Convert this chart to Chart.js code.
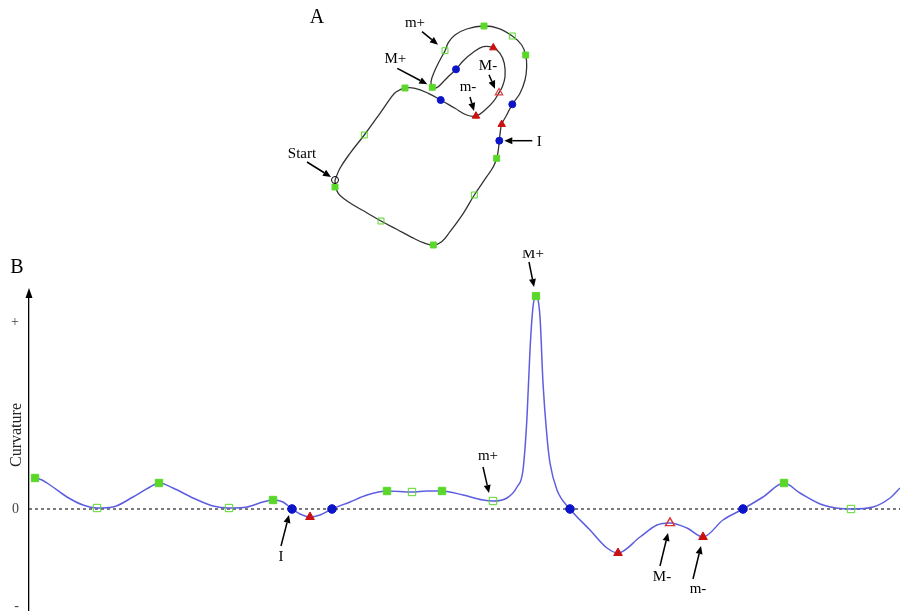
<!DOCTYPE html>
<html><head><meta charset="utf-8">
<script src="https://cdn.jsdelivr.net/npm/chart.js@4.4.1/dist/chart.umd.min.js"></script>
<style>
html,body{margin:0;padding:0;background:#fff;width:900px;height:611px;overflow:hidden;position:relative}
canvas{position:absolute}
#ca{left:270px;top:0}
#cb{left:0;top:250px}
</style></head><body>
<canvas id="ca" width="300" height="260"></canvas>
<canvas id="cb" width="900" height="361"></canvas>
<script>
// ---------- Panel A: contour (arbitrary planar units) ----------
const shapeX = [3.50,3.57,3.83,4.33,5.33,6.67,8.10,9.67,11.17,12.33,13.33,14.17,15.00,16.33,17.43,18.67,19.33,19.67,19.83,19.93,20.03,20.17,20.67,21.23,22.00,22.50,22.67,22.57,22.17,21.23,19.83,18.40,16.67,15.50,14.83,14.50,14.00,13.43,13.10,13.23,13.67,14.33,15.00,15.60,16.33,17.33,18.33,19.33,20.00,20.43,20.50,20.23,19.90,19.33,18.50,17.60,16.67,15.50,14.07,12.83,11.50,10.50,9.60,9.17,8.00,6.43,5.00,4.00,3.50];
const shapeY = [7.00,6.27,5.67,5.17,4.50,3.73,2.90,2.07,1.27,0.73,0.50,0.83,1.83,3.67,5.50,7.33,8.33,9.17,10.00,10.93,11.83,12.57,13.50,14.57,15.67,17.00,18.33,19.50,20.50,21.40,22.17,22.40,22.10,21.50,20.73,19.93,19.00,17.83,16.83,16.27,16.23,16.83,17.50,18.07,18.93,19.77,20.33,20.23,19.67,18.67,17.33,16.33,15.73,14.83,14.00,13.40,13.50,14.17,15.00,15.67,16.17,16.20,15.80,15.33,13.67,11.50,9.67,8.17,7.00];
const aStart      = [[3.50,7.00]];
const aMaxPos     = [[3.50,6.30],[13.33,0.50],[19.67,9.17],[22.57,19.50],[18.40,22.40],[13.23,16.27],[10.50,16.20]];
const aMinPos     = [[8.10,2.90],[17.43,5.50],[21.23,21.40],[14.50,19.93],[6.43,11.50]];
const aInflection = [[19.93,10.93],[21.23,14.57],[15.60,18.07],[14.07,15.00]];
const aMinNeg     = [[20.17,12.57],[19.33,20.23],[17.60,13.40]];
const aMaxNeg     = [[19.90,15.73]];

// ---------- Panel B: curvature along the contour ----------
const curveS = [0.4,0.6,1.3,2.1,3.8,5.4,6.8,8.4,10.4,12.1,13.0,14.4,16.4,18.4,20.0,21.8,23.4,24.4,25.4,26.3,27.1,28.1,29.1,30.3,32.1,33.8,35.8,38.3,39.8,41.3,43.4,45.4,46.4,47.8,48.8,49.4,49.8,50.1,50.4,50.7,51.1,51.4,51.8,52.1,52.8,54.1,56.1,57.8,58.9,61.1,62.8,64.1,65.8,67.4,69.4,71.4,73.4,75.5,77.1,79.4,82.2,84.4,86.1,87.1];
const curveK = [0.30,0.31,0.29,0.24,0.12,0.04,0.01,0.02,0.12,0.22,0.26,0.21,0.11,0.03,0.01,0.02,0.07,0.09,0.07,0.00,-0.05,-0.08,-0.06,0.00,0.07,0.14,0.18,0.17,0.18,0.18,0.14,0.09,0.08,0.11,0.22,0.39,0.92,1.59,2.02,2.13,1.92,1.26,0.72,0.46,0.19,0.00,-0.21,-0.39,-0.44,-0.28,-0.16,-0.14,-0.19,-0.28,-0.11,0.00,0.12,0.26,0.16,0.04,0.00,0.02,0.11,0.21];
const bMaxPos     = [[0.6,0.31],[13.0,0.26],[24.4,0.09],[35.8,0.18],[41.3,0.18],[50.7,2.13],[75.5,0.26]];
const bMinPos     = [[6.8,0.01],[20.0,0.01],[38.3,0.17],[46.4,0.08],[82.2,0.00]];
const bInflection = [[26.3,0],[30.3,0],[54.1,0],[71.4,0]];
const bMinNeg     = [[28.1,-0.08],[58.9,-0.44],[67.4,-0.28]];
const bMaxNeg     = [[64.1,-0.14]];
const zeroLine    = [[0,0],[87.1,0]];
const tickValues  = [1.87, 0, -0.97];
const tickLabels  = ['+', '0', '-'];
const yTitle      = 'Curvature';

const GREEN = '#5ad82a', BLUE = '#0c14c8', RED = '#cc1010', CURVE = '#5d5de0';
const SERIF = '"Liberation Serif", "DejaVu Serif", serif';

const pts = a => a.map(([x, y]) => ({x, y}));
function markers(arr, style, r, fill, border, bw) {
  return {data: pts(arr), showLine: false, pointStyle: style, pointRadius: r,
    pointBackgroundColor: fill, pointBorderColor: border, pointBorderWidth: bw, order: 0};
}

function arrowPlugin(notes, letter) {
  return {
    id: 'notes',
    afterDraw(chart) {
      const ctx = chart.ctx, xs = chart.scales.x, ys = chart.scales.y;
      ctx.save();
      ctx.fillStyle = '#000'; ctx.strokeStyle = '#000'; ctx.lineWidth = 1.5;
      notes.forEach(n => {
        const px = xs.getPixelForValue(n.pt[0]), py = ys.getPixelForValue(n.pt[1]);
        const tx = px + n.tip[0], ty = py + n.tip[1], sx = px + n.tail[0], sy = py + n.tail[1];
        const ang = Math.atan2(ty - sy, tx - sx), L = 8, W = 3.5;
        const bx = tx - L * Math.cos(ang), by = ty - L * Math.sin(ang);
        ctx.beginPath(); ctx.moveTo(sx, sy); ctx.lineTo(bx, by); ctx.stroke();
        ctx.beginPath(); ctx.moveTo(tx, ty);
        ctx.lineTo(bx + W * Math.sin(ang), by - W * Math.cos(ang));
        ctx.lineTo(bx - W * Math.sin(ang), by + W * Math.cos(ang));
        ctx.closePath(); ctx.fill();
        ctx.font = '15px ' + SERIF; ctx.textAlign = 'center'; ctx.textBaseline = 'middle';
        ctx.fillText(n.text, px + n.lab[0], py + n.lab[1]);
      });
      ctx.font = '20px ' + SERIF; ctx.textAlign = 'center'; ctx.textBaseline = 'middle';
      ctx.fillText(letter.text, letter.x, letter.y);
      if (letter.axisArrow) {
        const a = chart.chartArea;
        ctx.beginPath(); ctx.moveTo(a.left, a.top - 4);
        ctx.lineTo(a.left - 3.5, a.top + 6); ctx.lineTo(a.left + 3.5, a.top + 6);
        ctx.closePath(); ctx.fill();
        // y-axis title, rotated, placed like the original figure
        ctx.save();
        ctx.translate(17, ys.getPixelForValue(0.74));
        ctx.rotate(-Math.PI / 2);
        ctx.font = '16px ' + SERIF; ctx.fillStyle = '#222';
        ctx.fillText(yTitle, 0, 0);
        ctx.restore();
      }
      ctx.restore();
    }
  };
}

// ---------- Chart A ----------
const notesA = [
  {text: 'm+', pt: aMinPos[3], tip: [-7, -6], tail: [-23, -19], lab: [-30, -28]},
  {text: 'M+', pt: aMaxPos[5], tip: [-5, -3], tail: [-35, -19], lab: [-37, -28]},
  {text: 'M-', pt: aMaxNeg[0], tip: [-4, -4], tail: [-10, -18], lab: [-11, -27]},
  {text: 'm-', pt: aMinNeg[2], tip: [-2, -5], tail: [-6, -19], lab: [-8, -29]},
  {text: 'Start', pt: aStart[0], tip: [-4, -3], tail: [-28, -18], lab: [-33, -26]},
  {text: 'I', pt: aInflection[0], tip: [5, 0], tail: [33, 0], lab: [40, 1]}
];
new Chart(document.getElementById('ca'), {
  type: 'scatter',
  data: {datasets: [
    markers(aStart, 'circle', 3.5, 'rgba(0,0,0,0)', '#000', 1),
    markers(aMaxPos, 'rect', 4.2, GREEN, GREEN, 1),
    markers(aMinPos, 'rect', 4.2, 'rgba(0,0,0,0)', GREEN, 1),
    markers(aInflection, 'circle', 3.5, BLUE, BLUE, 1),
    markers(aMinNeg, 'triangle', 4.3, RED, RED, 1),
    markers(aMaxNeg, 'triangle', 4.3, 'rgba(0,0,0,0)', '#e04040', 1.2),
    {data: shapeX.map((x, i) => ({x, y: shapeY[i]})), showLine: true, tension: 0.4,
     borderColor: '#333', borderWidth: 1.3, pointRadius: 0, order: 1}
  ]},
  options: {
    responsive: false, animation: false, events: [],
    layout: {padding: 0, autoPadding: false},
    plugins: {legend: {display: false}, tooltip: {enabled: false}},
    scales: {
      x: {type: 'linear', min: -3, max: 27, display: false},
      y: {type: 'linear', min: -1, max: 25, display: false}
    }
  },
  plugins: [arrowPlugin(notesA, {text: 'A', x: 47, y: 18})]
});

// ---------- Chart B ----------
const notesB = [
  {text: 'M+', pt: bMaxPos[5], tip: [-2, -9], tail: [-7, -34], lab: [-3, -42]},
  {text: 'm+', pt: bMinPos[3], tip: [-4, -8], tail: [-10, -34], lab: [-5, -45]},
  {text: 'I', pt: bInflection[0], tip: [-3, 6], tail: [-11, 37], lab: [-11, 48]},
  {text: 'M-', pt: bMaxNeg[0], tip: [-2, 10], tail: [-10, 43], lab: [-8, 54]},
  {text: 'm-', pt: bMinNeg[2], tip: [-2, 9], tail: [-10, 42], lab: [-5, 52]}
];
new Chart(document.getElementById('cb'), {
  type: 'scatter',
  data: {datasets: [
    markers(bMaxPos, 'rect', 5.2, GREEN, GREEN, 1),
    markers(bMinPos, 'rect', 5.2, 'rgba(0,0,0,0)', GREEN, 1),
    markers(bInflection, 'circle', 4.3, BLUE, BLUE, 1),
    markers(bMinNeg, 'triangle', 5, RED, RED, 1),
    markers(bMaxNeg, 'triangle', 5.2, 'rgba(0,0,0,0)', '#e03030', 1.4),
    {data: curveS.map((x, i) => ({x, y: curveK[i]})), showLine: true,
     cubicInterpolationMode: 'monotone', borderColor: CURVE, borderWidth: 1.5, pointRadius: 0, order: 1},
    {data: pts(zeroLine), showLine: true, borderColor: '#333', borderWidth: 1.3,
     borderDash: [3, 3], pointRadius: 0, order: 2}
  ]},
  options: {
    responsive: false, animation: false, events: [],
    layout: {padding: {top: 42, left: 0, right: 0, bottom: 0}, autoPadding: false},
    plugins: {legend: {display: false}, tooltip: {enabled: false}},
    scales: {
      x: {type: 'linear', min: 0, max: 87.1, display: false},
      y: {
        type: 'linear', min: -1.02, max: 2.17,
        afterBuildTicks: s => { s.ticks = tickValues.map(v => ({value: v})); },
        afterFit: s => { s.width = 29; s.paddingTop = 0; s.paddingBottom = 0; },
        grid: {display: false, drawTicks: false},
        border: {display: true, color: '#000', width: 1.3},
        ticks: {
          padding: 10, color: '#444', font: {family: SERIF, size: 14},
          callback: v => { const i = tickValues.indexOf(v); return i >= 0 ? tickLabels[i] : ''; }
        },
        title: {display: false}
      }
    }
  },
  plugins: [arrowPlugin(notesB, {text: 'B', x: 17, y: 18, axisArrow: true})]
});
</script>
</body></html>
